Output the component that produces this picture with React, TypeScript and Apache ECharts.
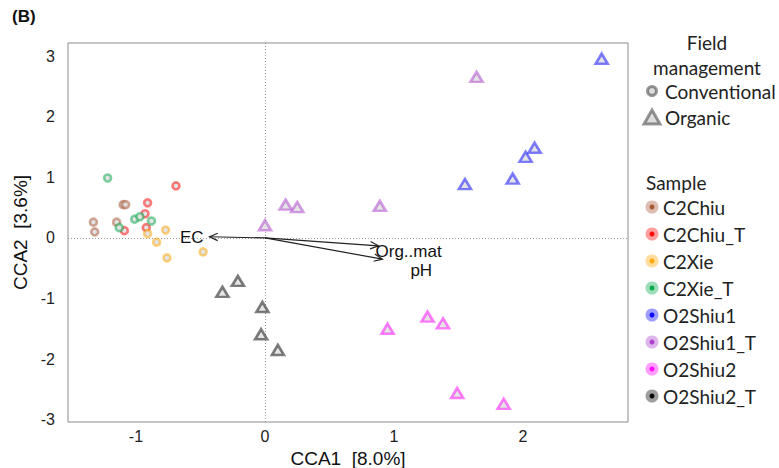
import React, { useEffect, useRef } from "react";
import * as echarts from "echarts";

// ---- data ----
const C2Chiu: number[][] = [[-1.10, 0.55], [-1.08, 0.55], [-1.33, 0.26], [-1.32, 0.10], [-1.15, 0.26]];
const C2Chiu_T: number[][] = [[-0.69, 0.86], [-0.91, 0.58], [-0.93, 0.40], [-0.92, 0.17], [-1.09, 0.12]];
const C2Xie: number[][] = [[-0.77, 0.13], [-0.91, 0.07], [-0.84, -0.07], [-0.76, -0.33], [-0.48, -0.23]];
const C2Xie_T: number[][] = [[-1.22, 0.99], [-1.01, 0.31], [-0.97, 0.35], [-0.88, 0.28], [-1.13, 0.17]];
const O2Shiu1: number[][] = [[2.61, 2.96], [1.55, 0.89], [1.92, 0.98], [2.02, 1.34], [2.09, 1.49]];
const O2Shiu1_T: number[][] = [[1.64, 2.66], [0.89, 0.53], [0.16, 0.55], [0.25, 0.51], [0.0, 0.21]];
const O2Shiu2: number[][] = [[0.95, -1.50], [1.26, -1.30], [1.38, -1.41], [1.49, -2.56], [1.85, -2.74]];
const O2Shiu2_T: number[][] = [[-0.33, -0.89], [-0.21, -0.71], [-0.02, -1.14], [-0.03, -1.59], [0.10, -1.85]];

const arrowNames: string[] = ["EC", "Org..mat", "pH"];
const arrowX: number[] = [-0.43, 0.88, 0.91];
const arrowY: number[] = [0.02, -0.13, -0.35];

const xTicks: number[] = [-1, 0, 1, 2];
const yTicks: number[] = [-3, -2, -1, 0, 1, 2, 3];

const sampleNames: string[] = ["C2Chiu", "C2Chiu_T", "C2Xie", "C2Xie_T", "O2Shiu1", "O2Shiu1_T", "O2Shiu2", "O2Shiu2_T"];
const sampleData: number[][][] = [C2Chiu, C2Chiu_T, C2Xie, C2Xie_T, O2Shiu1, O2Shiu1_T, O2Shiu2, O2Shiu2_T];
const sampleShape: string[] = ["circle", "circle", "circle", "circle", "triangle", "triangle", "triangle", "triangle"];

// styling
const baseRGB: number[][] = [
  [165, 82, 45],
  [255, 0, 0],
  [255, 165, 0],
  [0, 165, 70],
  [0, 0, 255],
  [170, 60, 205],
  [255, 0, 255],
  [0, 0, 0],
];
const rgba = (c: number[], a: number) => `rgba(${c[0]},${c[1]},${c[2]},${a})`;

const FONT = "Liberation Sans, Arial, sans-serif";
const LFONT = "Lato, 'Open Sans', sans-serif";

// label offsets for arrow texts (pixels from arrow tip)
const labelOffset: { dx: number; dy: number; align: string }[] = [
  { dx: -6, dy: 1, align: "right" },
  { dx: -3, dy: 6, align: "left" },
  { dx: 28, dy: 11, align: "left" },
];

export default function App() {
  const ref = useRef<HTMLDivElement>(null);

  useEffect(() => {
    if (!ref.current) return;
    const chart = echarts.init(ref.current, null, { renderer: "svg" });

    const scatterSeries: any[] = sampleNames.map((name, i) => ({
      type: "scatter",
      name,
      data: sampleData[i],
      symbol: sampleShape[i],
      symbolSize: sampleShape[i] === "circle" ? 7 : [12, 10],
      itemStyle: {
        color: "rgba(225,225,225,0.9)",
        borderColor: rgba(baseRGB[i], 0.5),
        borderWidth: 2.6,
        opacity: 1,
      },
      z: 3,
    }));

    // zero reference lines
    scatterSeries[0].markLine = {
      silent: true,
      symbol: "none",
      label: { show: false },
      lineStyle: { color: "#9a9a9a", type: [1, 2], width: 1 },
      data: [{ xAxis: 0 }, { yAxis: 0 }],
      z: 1,
    };

    const arrowSeries = {
      type: "custom",
      name: "arrows",
      data: arrowNames.map((n, i) => [arrowX[i], arrowY[i], i]),
      z: 4,
      renderItem: (params: any, api: any) => {
        const o = api.coord([0, 0]);
        const t = api.coord([api.value(0), api.value(1)]);
        const idx = api.value(2);
        const ang = Math.atan2(t[1] - o[1], t[0] - o[0]);
        const hl = 9;
        const ha = 0.42;
        const p1 = [t[0] - hl * Math.cos(ang - ha), t[1] - hl * Math.sin(ang - ha)];
        const p2 = [t[0] - hl * Math.cos(ang + ha), t[1] - hl * Math.sin(ang + ha)];
        const off = labelOffset[idx];
        return {
          type: "group",
          children: [
            {
              type: "line",
              shape: { x1: o[0], y1: o[1], x2: t[0], y2: t[1] },
              style: { stroke: "#222", lineWidth: 1.2 },
            },
            {
              type: "polyline",
              shape: { points: [p1, t, p2] },
              style: { stroke: "#222", lineWidth: 1.2, fill: "none" },
            },
            {
              type: "text",
              x: t[0] + off.dx,
              y: t[1] + off.dy,
              style: {
                text: arrowNames[idx],
                align: off.align,
                verticalAlign: "middle",
                font: `17px ${FONT}`,
                fill: "#111",
              },
            },
          ],
        };
      },
    };

    // legend graphics
    const g: any[] = [];
    g.push({ type: "text", left: 12, top: 8, style: { text: "(B)", font: `bold 17px ${FONT}`, fill: "#111" } });
    g.push({ type: "text", x: 707, y: 42, style: { text: "Field", align: "center", verticalAlign: "middle", font: `19px ${LFONT}`, fill: "#222" } });
    g.push({ type: "text", x: 707, y: 67, style: { text: "management", align: "center", verticalAlign: "middle", font: `19px ${LFONT}`, fill: "#222" } });
    g.push({ type: "circle", shape: { cx: 652, cy: 91, r: 4.5 }, style: { fill: "#ddd", stroke: "rgba(0,0,0,0.4)", lineWidth: 3 } });
    g.push({ type: "text", x: 665, y: 91, style: { text: "Conventional", verticalAlign: "middle", font: `19px ${LFONT}`, fill: "#222" } });
    g.push({ type: "polygon", shape: { points: [[644, 124], [652, 110], [660, 124]] }, style: { fill: "#ddd", stroke: "rgba(0,0,0,0.4)", lineWidth: 3 } });
    g.push({ type: "text", x: 665, y: 117, style: { text: "Organic", verticalAlign: "middle", font: `19px ${LFONT}`, fill: "#222" } });
    g.push({ type: "text", x: 646, y: 182, style: { text: "Sample", verticalAlign: "middle", font: `19px ${LFONT}`, fill: "#222" } });
    sampleNames.forEach((n, i) => {
      const y = 207 + 27 * i;
      g.push({ type: "circle", shape: { cx: 652, cy: y, r: 6.5 }, style: { fill: rgba(baseRGB[i], 0.38) } });
      g.push({ type: "circle", shape: { cx: 652, cy: y, r: 2.5 }, style: { fill: rgba(baseRGB[i], 0.95) } });
      g.push({ type: "text", x: 663, y, style: { text: n, verticalAlign: "middle", font: `19px ${LFONT}`, fill: "#222" } });
    });

    chart.setOption({
      animation: false,
      backgroundColor: "#fff",
      grid: {
        left: 68, right: 151, top: 43, bottom: 46,
        show: true, borderColor: "#8c8c8c", borderWidth: 1,
        containLabel: false, outerBoundsMode: "none",
      },
      xAxis: {
        type: "value",
        min: -1.527,
        max: 2.814,
        name: "CCA1  [8.0%]",
        nameLocation: "middle",
        nameGap: 24,
        nameTextStyle: { fontFamily: FONT, fontSize: 19, color: "#111" },
        axisLine: { show: false },
        axisTick: { show: false },
        splitLine: { show: false },
        axisLabel: { customValues: xTicks, fontFamily: FONT, fontSize: 16, color: "#222", margin: 6 },
      },
      yAxis: {
        type: "value",
        min: -3.04,
        max: 3.22,
        name: "CCA2  [3.6%]",
        nameLocation: "middle",
        nameGap: 29,
        nameTextStyle: { fontFamily: FONT, fontSize: 19, color: "#111" },
        axisLine: { show: false },
        axisTick: { show: false },
        splitLine: { show: false },
        axisLabel: { customValues: yTicks, fontFamily: FONT, fontSize: 16, color: "#222", margin: 13 },
      },
      legend: { show: false },
      graphic: g,
      series: [...scatterSeries, arrowSeries],
    });

    return () => chart.dispose();
  }, []);

  return <div ref={ref} style={{ position: "fixed", left: 0, top: 0, width: 779, height: 468 }} />;
}
